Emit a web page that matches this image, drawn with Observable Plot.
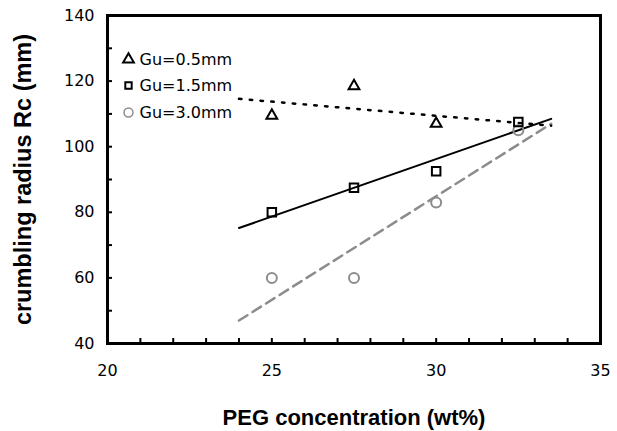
<!DOCTYPE html>
<html><head><meta charset="utf-8">
<script src="https://cdn.jsdelivr.net/npm/d3@7"></script>
<script src="https://cdn.jsdelivr.net/npm/@observablehq/plot@0.6"></script>
<style>
body{margin:0;background:#fff}
#chart svg [aria-label="x-axis label"]{font-family:"Liberation Sans",Arial,sans-serif;font-weight:bold;font-size:22px}
#chart svg [aria-label="y-axis label"]{font-family:"Liberation Sans",Arial,sans-serif;font-weight:bold;font-size:23.5px}
</style>
</head><body><div id="chart"></div>
<script>
// PEG concentration (wt%)
const concentration = [25, 27.5, 30, 32.5];
// crumbling radius Rc (mm) per series
const gu05 = [109.5, 118.5, 107];
const gu15 = [80, 87.5, 92.5, 107.5];
const gu30 = [60, 60, 83, 105];
// trend line end points
const fitX = [24, 33.5];
const fit05 = [114.6, 106.4];
const fit15 = [75.2, 108.5];
const fit30 = [47, 107];
const seriesNames = ["Gu=0.5mm", "Gu=1.5mm", "Gu=3.0mm"];
// ticks
const xLabelTicks = [20, 25, 30, 35];
const xMarkTicks = [21, 22, 23, 24, 25, 26, 27, 28, 29, 30, 31, 32, 33, 34];
const yLabelTicks = [40, 60, 80, 100, 120, 140];
const yMarkTicks = [50, 60, 70, 80, 90, 100, 110, 120, 130];

const pts = (xs, ys) => ys.map((y, i) => ({x: xs[i], y}));
const grey = "#8c8c8c";

const plot = Plot.plot({
  width: 617, height: 431,
  marginLeft: 107, marginRight: 17, marginTop: 15, marginBottom: 88,
  style: {fontFamily: "'DejaVu Sans', sans-serif", fontSize: "16px", color: "#000", background: "#fff"},
  x: {domain: [20, 35]},
  y: {domain: [40, 140]},
  marks: [
    Plot.axisX(xMarkTicks, {tickSize: -5, tickFormat: () => "", label: null, strokeWidth: 2}),
    Plot.axisY(yMarkTicks, {tickSize: -5, tickFormat: () => "", label: null, strokeWidth: 2}),
    Plot.axisX(xLabelTicks, {tickSize: 0, tickPadding: 21, fontSize: 16, label: "PEG concentration (wt%)", labelAnchor: "center", labelArrow: "none", labelOffset: 81}),
    Plot.axisY(yLabelTicks, {tickSize: 0, tickPadding: 13, fontSize: 16, label: "crumbling radius Rc (mm)", labelAnchor: "center", labelArrow: "none", labelOffset: 93}),
    Plot.line(pts(fitX, fit30), {x: "x", y: "y", stroke: grey, strokeWidth: 2.5, strokeDasharray: "10,6"}),
    Plot.line(pts(fitX, fit15), {x: "x", y: "y", stroke: "#000", strokeWidth: 2}),
    Plot.line(pts(fitX, fit05), {x: "x", y: "y", stroke: "#000", strokeWidth: 2.5, strokeDasharray: "2.5,8.3"}),
    Plot.dot(pts(concentration, gu30), {x: "x", y: "y", symbol: "circle", r: 5, stroke: grey, strokeWidth: 2, fill: "none"}),
    Plot.dot(pts(concentration, gu15), {x: "x", y: "y", symbol: "square", r: 4.8, stroke: "#000", strokeWidth: 2, fill: "none"}),
    Plot.dot(pts(concentration, gu05), {x: "x", y: "y", symbol: "triangle", r: 4, stroke: "#000", strokeWidth: 2, fill: "none"}),
    // legend
    Plot.dot([seriesNames[0]], {frameAnchor: "top-left", dx: 21, dy: 44, symbol: "triangle", r: 4, stroke: "#000", strokeWidth: 2, fill: "none"}),
    Plot.dot([seriesNames[1]], {frameAnchor: "top-left", dx: 21, dy: 70, symbol: "square", r: 3.6, stroke: "#000", strokeWidth: 2, fill: "none"}),
    Plot.dot([seriesNames[2]], {frameAnchor: "top-left", dx: 21, dy: 97, symbol: "circle", r: 4.5, stroke: grey, strokeWidth: 1.5, fill: "none"}),
    Plot.text([seriesNames[0]], {frameAnchor: "top-left", lineAnchor: "middle", dx: 32, dy: 44, text: d => d, textAnchor: "start", fontSize: 16}),
    Plot.text([seriesNames[1]], {frameAnchor: "top-left", lineAnchor: "middle", dx: 32, dy: 70, text: d => d, textAnchor: "start", fontSize: 16}),
    Plot.text([seriesNames[2]], {frameAnchor: "top-left", lineAnchor: "middle", dx: 32, dy: 97, text: d => d, textAnchor: "start", fontSize: 16}),
    Plot.frame({stroke: "#000", strokeWidth: 3})
  ]
});
document.getElementById("chart").append(plot);
</script>
</body></html>
